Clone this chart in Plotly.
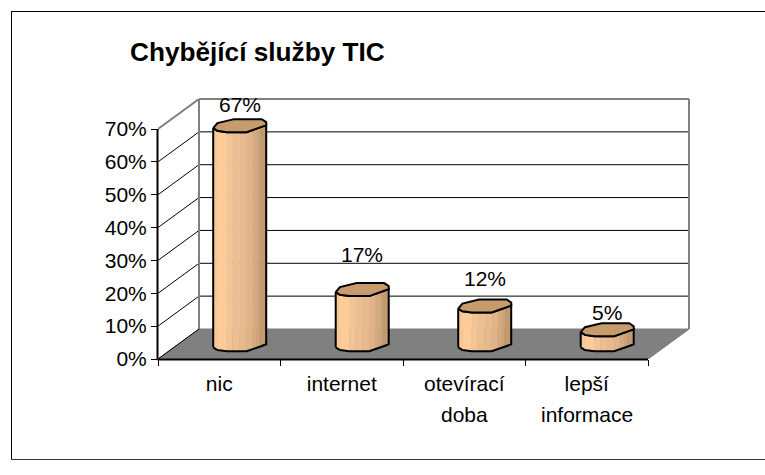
import plotly.graph_objects as go
import numpy as np

# --- data ---
title = "Chybějící služby TIC"
categories_line1 = ["nic", "internet", "otevírací", "lepší"]
categories_line2 = ["", "", "doba", "informace"]
values = [66.7, 16.8, 11.8, 4.6]
y_ticks = [0, 10, 20, 30, 40, 50, 60, 70]

# --- geometry / style (data units: x = category slots, y = percent) ---
PX_X = 122.5          # px per category slot
PX_Y = 230 / 70       # px per percent
L, T, R, B = 158, 99, 689, 359
W, H = 765, 475
DEPTH_X = (R - 648) / PX_X
DEPTH_Y = 30 / PX_Y
X_MAX = 4 + DEPTH_X
Y_MAX = 70 + DEPTH_Y
BASE = 7.7 / PX_Y      # lift of the front of a column above the axis
CENTER = 0.667
LABEL_FONT = "Liberation Sans, Arial, sans-serif"
FONT_SIZE = 21
LABEL_SHIFT = [15, 29, 21, 11]   # px above cap

# column cross-section, px relative to centre / front-most point
front_dx = np.array([-26.5, -22.3, -13, 7, 22, 26.5])
front_up = np.array([4.0, 1.3, 0, 0, 5.3, 7.0])
back_dx = np.array([-22.3, -16.6, -5.6, 22, 26.5])
back_up = np.array([9, 10, 13, 13, 10])
strip_edges = [-26.5, -22, -13, -7, 0, 7, 13, 17, 20, 26.5]
strip_colors = ["#F6C897", "#FFCC99", "#F3C596", "#EBBF92", "#E6BA8D",
                "#E0B488", "#D4AB80", "#CDA57B", "#C29A70"]
CAP = "#C69C6D"
GRID = "#000000"
WALL = "#808080"

fig = go.Figure()

def line(xs, ys, color, width=1):
    fig.add_trace(go.Scatter(x=xs, y=ys, mode="lines", hoverinfo="skip", cliponaxis=False,
                             line=dict(color=color, width=width)))

# floor
fig.add_trace(go.Scatter(x=[0, 4, X_MAX, DEPTH_X, 0], y=[0, 0, DEPTH_Y, DEPTH_Y, 0],
                         mode="lines", fill="toself", fillcolor=WALL, cliponaxis=False,
                         line=dict(color=WALL, width=1), hoverinfo="skip"))
# grid lines
for t in y_ticks[1:-1]:
    line([0, DEPTH_X, X_MAX], [t, t + DEPTH_Y, t + DEPTH_Y], GRID)
# walls
line([0, DEPTH_X], [70, Y_MAX], WALL, 2)
line([DEPTH_X, DEPTH_X], [DEPTH_Y, Y_MAX], WALL, 2)
line([0, DEPTH_X], [0, DEPTH_Y], GRID)
line([4, X_MAX], [0, DEPTH_Y], WALL)

# columns
for s, col in enumerate(strip_colors):
    xs, ys = [], []
    a, b = strip_edges[s], strip_edges[s + 1]
    for k, v in enumerate(values):
        cx = CENTER + k
        ua, ub = np.interp([a, b], front_dx, front_up) / PX_Y
        xs += [cx + a / PX_X, cx + b / PX_X, cx + b / PX_X, cx + a / PX_X, cx + a / PX_X, None]
        ys += [BASE + ua, BASE + ub, BASE + v + ub, BASE + v + ua, BASE + ua, None]
    fig.add_trace(go.Scatter(x=xs, y=ys, mode="lines", fill="toself", fillcolor=col,
                             line=dict(color=col, width=0.5), hoverinfo="skip"))

for k, v in enumerate(values):
    cx = CENTER + k
    dx = front_dx / PX_X
    up = front_up / PX_Y
    # side outline
    sx = list(cx + dx) + list(cx + dx[::-1])
    sy = list(BASE + up) + list(BASE + v + up[::-1])
    sx.append(sx[0]); sy.append(sy[0])
    line(sx, sy, "#000000", 2)
    # cap
    cap_x = list(cx + dx) + list(cx + back_dx[::-1] / PX_X) + [cx + dx[0]]
    cap_y = list(BASE + v + up) + list(BASE + v + back_up[::-1] / PX_Y) + [BASE + v + up[0]]
    fig.add_trace(go.Scatter(x=cap_x, y=cap_y, mode="lines", fill="toself", fillcolor=CAP,
                             line=dict(color="#000000", width=2), hoverinfo="skip"))

annotations = []
for k, v in enumerate(values):
    annotations.append(dict(x=CENTER + k, y=BASE + v + 13 / PX_Y, text=f"{v:.0f}%", showarrow=False,
                            xanchor="center", yanchor="middle", yshift=LABEL_SHIFT[k],
                            font=dict(family=LABEL_FONT, size=FONT_SIZE, color="#000000")))
for k, txt in enumerate(categories_line2):
    if txt:
        annotations.append(dict(x=k + 0.5, y=0, text=txt, showarrow=False, xanchor="center",
                                yanchor="middle", yshift=-55,
                                font=dict(family=LABEL_FONT, size=FONT_SIZE, color="#000000")))

px = lambda v: (v - L) / (R - L)
py = lambda v: (B - v) / (B - T)
frame = dict(type="line", xref="paper", yref="paper", line=dict(color="#000000", width=1))
edge = lambda x0, y0, x1, y1, color, width: dict(type="line", xref="paper", yref="paper",
                                                 x0=x0, y0=y0, x1=x1, y1=y1,
                                                 line=dict(color=color, width=width))
shapes = [
    dict(frame, x0=px(11), x1=px(765), y0=py(11.5), y1=py(11.5)),
    dict(frame, x0=px(11.5), x1=px(11.5), y0=py(11), y1=py(459.5)),
    dict(frame, x0=px(11), x1=px(765), y0=py(459.5), y1=py(459.5), line=dict(color="#333333", width=1)),
    edge(px(L + DEPTH_X * PX_X), 1, 1, 1, WALL, 2),
    edge(1, py(B - DEPTH_Y * PX_Y), 1, 1, WALL, 2),
    edge(px(L - 0.5), py(B + 0.5), px(L - 0.5), py(B - 70 * PX_Y), "#000000", 2),
    edge(px(L - 0.5), py(B + 0.5), px(L + 4 * PX_X), py(B + 0.5), "#000000", 2),
]

fig.update_layout(
    width=W, height=H, showlegend=False,
    margin=dict(l=L, r=W - R, t=T, b=H - B, pad=0),
    paper_bgcolor="#FFFFFF", plot_bgcolor="#FFFFFF",
    font=dict(family=LABEL_FONT, size=FONT_SIZE, color="#000000"),
    title=dict(text=f"<b>{title}</b>", xref="container", yref="container",
               x=130 / W, y=1 - 52 / H, xanchor="left", yanchor="middle",
               font=dict(family=LABEL_FONT, size=26.2, color="#000000")),
    xaxis=dict(range=[0, X_MAX], showgrid=False, zeroline=False, showline=False,
               tickmode="array", tickvals=[k + 0.5 for k in range(4)], ticktext=categories_line1,
               ticks="", ticklabelstandoff=10,
               minor=dict(tickmode="array", tickvals=[0, 1, 2, 3, 4], ticks="outside", ticklen=6,
                          tickcolor="#000000", tickwidth=1, showgrid=False)),
    yaxis=dict(range=[0, Y_MAX], showgrid=False, zeroline=False, showline=False,
               tickmode="array", tickvals=y_ticks, ticktext=[f"{t}%" for t in y_ticks],
               ticks="outside", ticklen=6, tickcolor="#000000", tickwidth=1),
    annotations=annotations, shapes=shapes,
)
fig.write_html("out.html", config={"displayModeBar": False},
               post_script="document.body.style.margin='0';")
